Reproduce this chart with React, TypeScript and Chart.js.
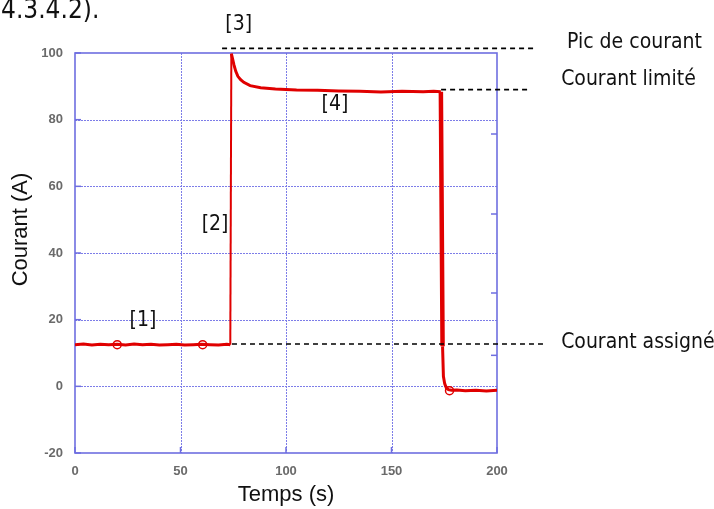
import { useEffect, useRef } from "react";
import { Chart, registerables } from "chart.js";

Chart.register(...registerables);

// ---- Data ----
const timeS = [
  0, 4, 8, 12, 16, 20, 24, 28, 32, 36, 40, 44, 48, 52, 56, 60, 64, 68, 72, 73.6,
  74.1, 74.6, 75.3, 76.2, 77.2, 78.5, 80, 83, 88, 95, 105, 115, 125, 135, 145, 155, 165, 170, 173.4,
  173.8, 174.2, 174.6, 175.2, 176, 177, 178.5, 181, 185, 190, 195, 200,
];
const currentA = [
  12.5, 12.7, 12.4, 12.6, 12.5, 12.6, 12.4, 12.7, 12.5, 12.6, 12.4, 12.5, 12.6, 12.4, 12.5, 12.6, 12.5, 12.4, 12.6, 12.5,
  99.8, 98.5, 96.5, 94.5, 93, 92, 91.2, 90.2, 89.6, 89.2, 88.9, 88.8, 88.6, 88.5, 88.3, 88.5, 88.4, 88.5, 88.4,
  50, 12, 3, 0.8, -0.5, -1, -1.2, -1.1, -1.3, -1.2, -1.4, -1.2,
];
const markerTimeS = [20, 60.5, 177.5];
const markerCurrentA = [12.5, 12.5, -1.3];

const xTickStep = 50;
const yTickStep = 20;
const xMin = 0;
const xMax = 200;
const yMin = -20;
const yMax = 100;
const rightTickValues = [75.7, 51.7, 28, 9.3];

const refLabels = ["Pic de courant", "Courant limité", "Courant assigné"];
const refLevels = [101.4, 89, 12.7];
const refStartS = [69.7, 173.5, 74.4];
const refEndS = [218, 216, 223];
const refLabelS = [233.2, 230.4, 230.4];
const refLabelA = [103.1, 92, 13.1];

const phaseLabels = ["[1]", "[2]", "[3]", "[4]"];
const phaseS = [32.2, 66.4, 77.6, 123.2];
const phaseA = [19.7, 48.5, 108.5, 84.5];

const headingText = "4.3.4.2).";
const xTitle = "Temps (s)";
const yTitle = "Courant (A)";

const RED = "#e00000";
const BLUE = "#6e6ee0";
const GRID = "#7d7de8";
const ANNOT_FONT = "21px 'DejaVu Sans Condensed', 'DejaVu Sans', sans-serif";

const decorPlugin = {
  id: "decor",
  beforeDatasetsDraw(chart: any) {
    const { ctx, chartArea: a, scales } = chart;
    const x = scales.x;
    const y = scales.y;
    ctx.save();
    // dotted grid
    ctx.strokeStyle = GRID;
    ctx.lineWidth = 1;
    ctx.setLineDash([2, 1]);
    for (let v = yMin + yTickStep; v < yMax; v += yTickStep) {
      const py = Math.round(y.getPixelForValue(v)) + 0.5;
      ctx.beginPath();
      ctx.moveTo(a.left, py);
      ctx.lineTo(a.right, py);
      ctx.stroke();
    }
    for (let v = xMin + xTickStep; v < xMax; v += xTickStep) {
      const px = Math.round(x.getPixelForValue(v)) + 0.5;
      ctx.beginPath();
      ctx.moveTo(px, a.top);
      ctx.lineTo(px, a.bottom);
      ctx.stroke();
    }
    ctx.setLineDash([]);
    // inward solid ticks
    ctx.strokeStyle = BLUE;
    ctx.lineWidth = 1.5;
    for (let v = yMin; v <= yMax; v += yTickStep) {
      const py = y.getPixelForValue(v);
      ctx.beginPath();
      ctx.moveTo(a.left, py);
      ctx.lineTo(a.left + 6, py);
      ctx.stroke();
    }
    for (let v = xMin; v <= xMax; v += xTickStep) {
      const px = x.getPixelForValue(v);
      ctx.beginPath();
      ctx.moveTo(px, a.bottom);
      ctx.lineTo(px, a.bottom - 6);
      ctx.stroke();
    }
    for (const v of rightTickValues) {
      const py = y.getPixelForValue(v);
      ctx.beginPath();
      ctx.moveTo(a.right, py);
      ctx.lineTo(a.right - 6, py);
      ctx.stroke();
    }
    ctx.lineWidth = 1.6;
    ctx.strokeRect(a.left, a.top, a.right - a.left, a.bottom - a.top);
    ctx.restore();
  },
  afterDatasetsDraw(chart: any) {
    const { ctx, scales } = chart;
    const x = scales.x;
    const y = scales.y;
    ctx.save();
    ctx.strokeStyle = "#000";
    ctx.lineWidth = 1.6;
    ctx.setLineDash([5, 4]);
    refLevels.forEach((lv, i) => {
      const py = y.getPixelForValue(lv);
      ctx.beginPath();
      ctx.moveTo(x.getPixelForValue(refStartS[i]), py);
      ctx.lineTo(x.getPixelForValue(refEndS[i]), py);
      ctx.stroke();
    });
    ctx.setLineDash([]);
    ctx.fillStyle = "#111";
    ctx.font = ANNOT_FONT;
    ctx.textBaseline = "middle";
    ctx.textAlign = "left";
    refLabels.forEach((t, i) => {
      ctx.fillText(t, x.getPixelForValue(refLabelS[i]), y.getPixelForValue(refLabelA[i]));
    });
    ctx.textAlign = "center";
    phaseLabels.forEach((t, i) => {
      ctx.fillText(t, x.getPixelForValue(phaseS[i]), y.getPixelForValue(phaseA[i]));
    });
    ctx.textAlign = "left";
    ctx.textBaseline = "alphabetic";
    ctx.font = "26px 'DejaVu Sans Condensed', 'DejaVu Sans', sans-serif";
    ctx.fillText(headingText, 1, 18);
    ctx.font = "22px 'Liberation Sans', Arial, sans-serif";
    ctx.textAlign = "center";
    ctx.textBaseline = "middle";
    ctx.translate(21, 229.5);
    ctx.rotate(-Math.PI / 2);
    ctx.fillText(yTitle, 0, 0);
    ctx.restore();
  },
};

export default function App() {
  const ref = useRef<HTMLCanvasElement>(null);
  useEffect(() => {
    if (!ref.current) return;
    const mainData = timeS.map((t, i) => ({ x: t, y: currentA[i] }));
    const markerData = markerTimeS.map((t, i) => ({ x: t, y: markerCurrentA[i] }));
    const tickFont = { family: "'Liberation Sans', Arial, sans-serif", size: 13, weight: "bold" as const };
    const chart = new Chart(ref.current, {
      type: "line",
      data: {
        datasets: [
          {
            data: mainData,
            borderColor: RED,
            borderWidth: 3,
            pointRadius: 0,
            tension: 0,
            segment: {
              borderWidth: (c: any) => {
                const dy = c.p1.parsed.y - c.p0.parsed.y;
                if (dy > 30) return 2;
                if (dy < -30) return 4.5;
                return 3;
              },
            },
          },
          {
            data: markerData,
            showLine: false,
            pointRadius: 4,
            pointBorderWidth: 1.5,
            pointBorderColor: RED,
            pointBackgroundColor: "rgba(0,0,0,0)",
          },
        ],
      },
      options: {
        animation: false,
        responsive: false,
        devicePixelRatio: 1,
        layout: { padding: { top: 53, right: 217, left: 0, bottom: 0 } },
        plugins: { legend: { display: false }, tooltip: { enabled: false } },
        scales: {
          x: {
            type: "linear",
            min: xMin,
            max: xMax,
            ticks: { stepSize: xTickStep, color: "#6a6a6a", font: tickFont, padding: 11 },
            grid: { display: false, drawTicks: false },
            border: { display: false },
            title: {
              display: true,
              text: xTitle,
              color: "#111",
              font: { family: "'Liberation Sans', Arial, sans-serif", size: 22 },
              padding: { top: 0, bottom: 1 },
            },
            afterFit: (s: any) => {
              s.height = 56;
            },
          },
          y: {
            type: "linear",
            min: yMin,
            max: yMax,
            ticks: { stepSize: yTickStep, color: "#6a6a6a", font: tickFont, padding: 12 },
            grid: { display: false, drawTicks: false },
            border: { display: false },
            afterFit: (s: any) => {
              s.width = 75;
            },
          },
        },
      },
      plugins: [decorPlugin],
    });
    return () => chart.destroy();
  }, []);
  return (
    <div style={{ position: "absolute", left: 0, top: 0, width: 714, height: 509, background: "#fff" }}>
      <canvas ref={ref} width={714} height={509} style={{ width: 714, height: 509 }} />
    </div>
  );
}
